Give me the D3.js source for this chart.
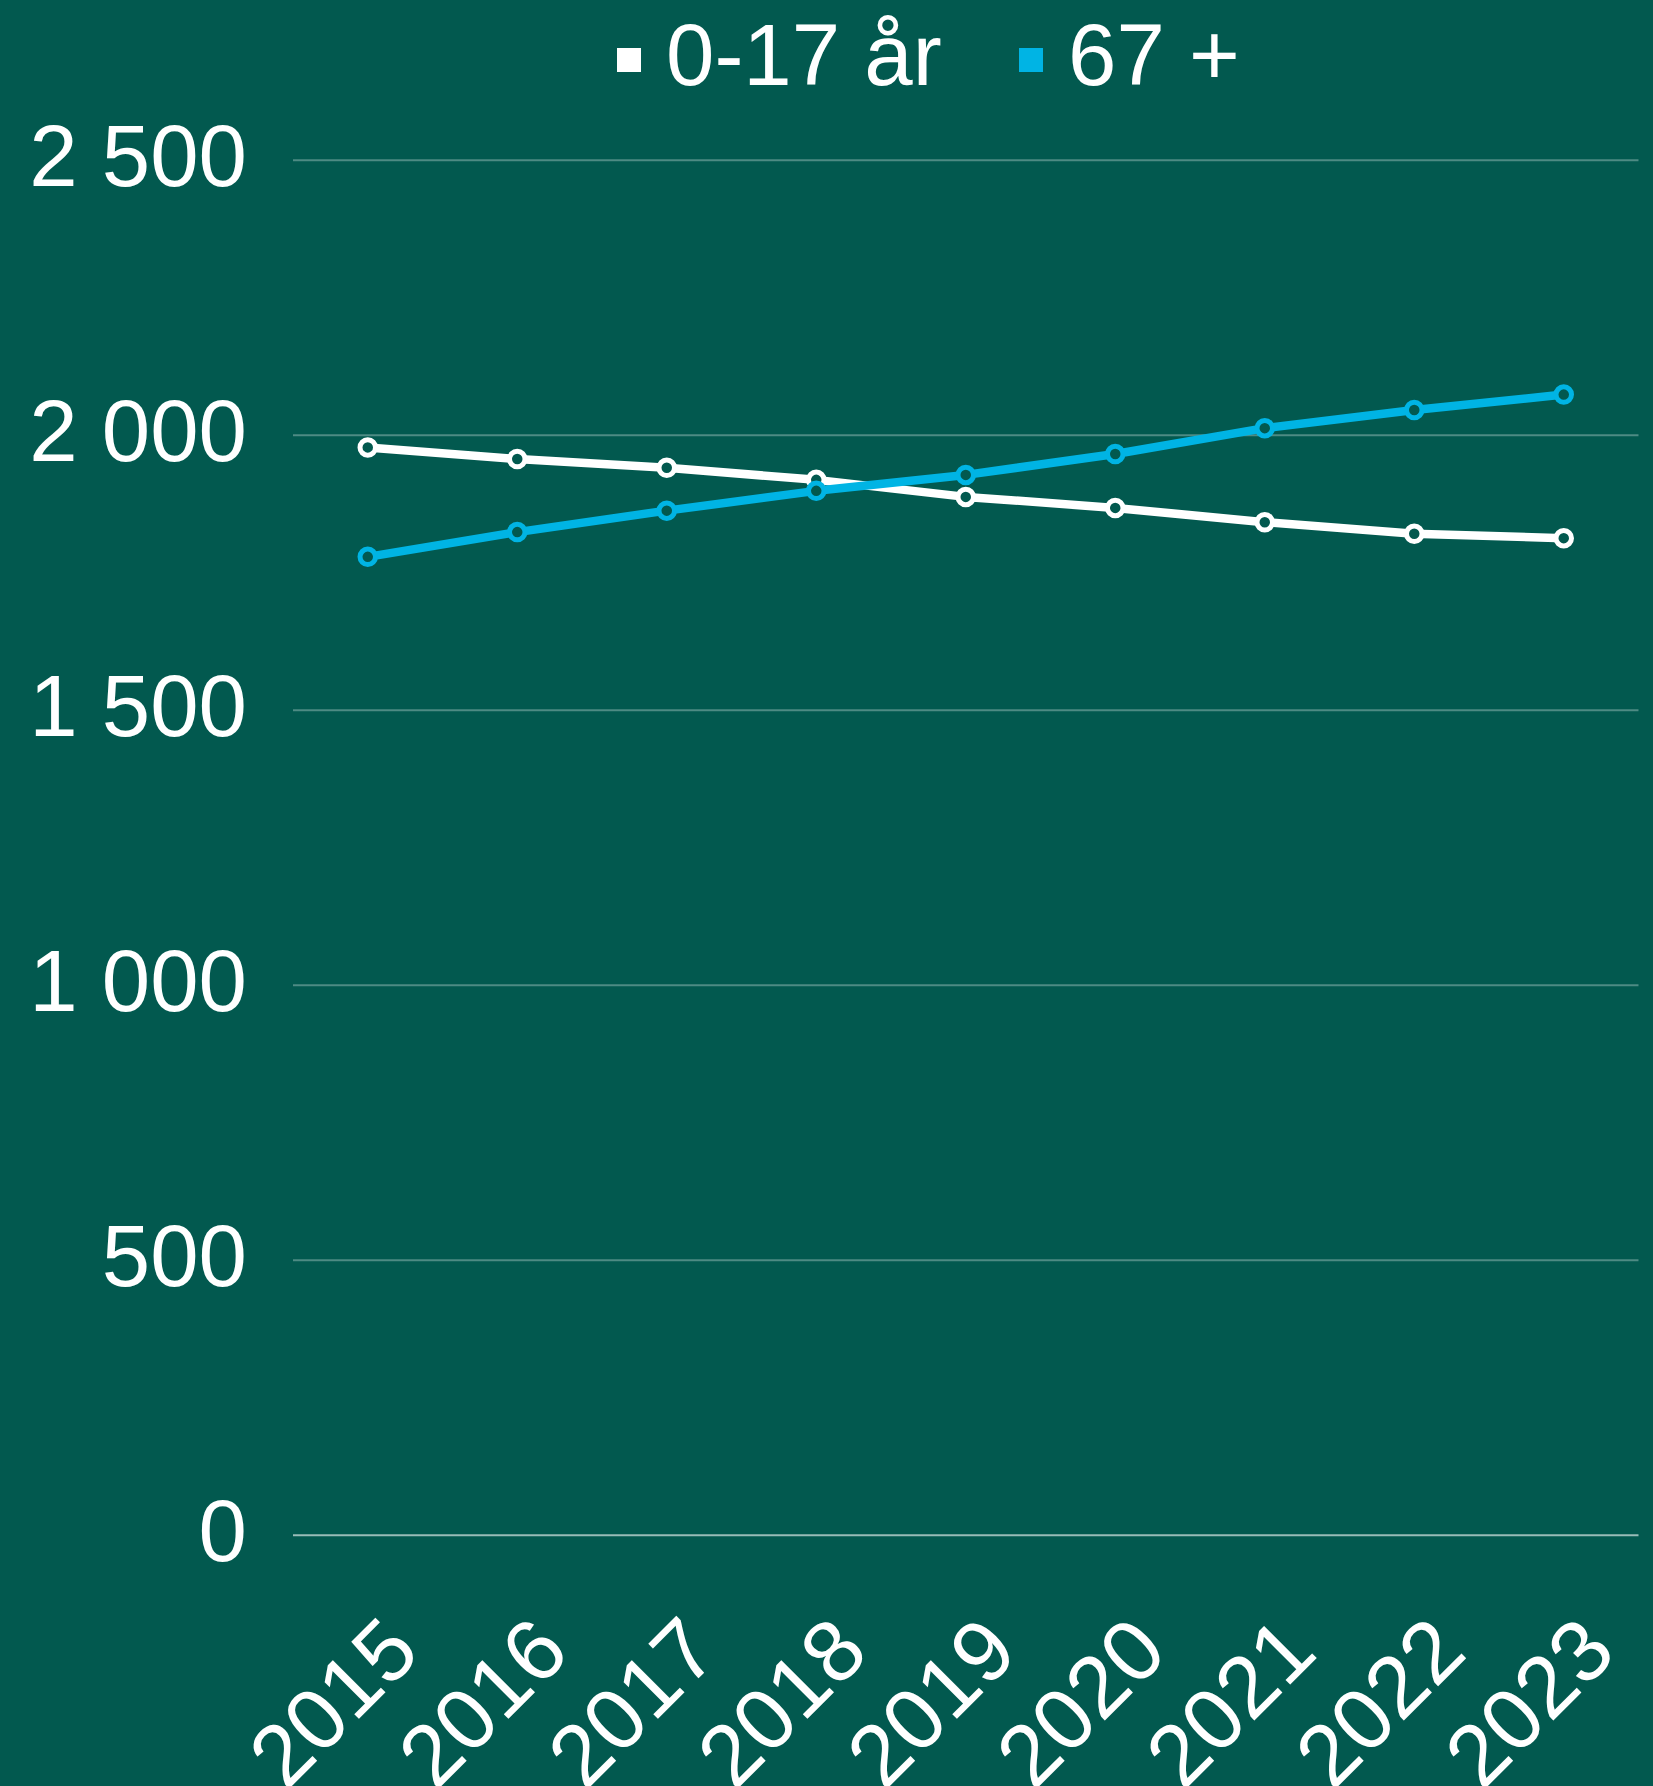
<!DOCTYPE html>
<html>
<head>
<meta charset="utf-8">
<script src="https://cdn.jsdelivr.net/npm/d3@7"></script>
<style>
  html, body { margin: 0; padding: 0; background: #02594F; }
  svg { display: block; }
  text { font-family: "Liberation Sans", Arial, sans-serif; fill: #ffffff; }
</style>
</head>
<body>
<svg id="chart" width="1653" height="1786"></svg>
<script>
const years = ["2015", "2016", "2017", "2018", "2019", "2020", "2021", "2022", "2023"];
const children = [1978, 1957, 1941, 1919, 1888, 1868, 1842, 1821, 1813];
const elderly = [1779, 1824, 1863, 1899, 1928, 1966, 2013, 2046, 2074];
const yTicks = [0, 500, 1000, 1500, 2000, 2500];
const seriesNames = ["0-17 år", "67 +"];
const seriesColors = ["#ffffff", "#00B4E4"];

(function () {
const W = 1653, H = 1786;
const bg = "#02594F";
const svg = d3.select("#chart");
svg.append("rect").attr("width", W).attr("height", H).attr("fill", bg);

const pLeft = 293, pRight = 1638.5, pTop = 160.3, pBottom = 1535.3;
const x = d3.scaleBand().domain(years).range([pLeft, pRight]).padding(0);
const y = d3.scaleLinear().domain([0, 2500]).range([pBottom, pTop]);
const fmt = d3.formatLocale({decimal: ",", thousands: " ", grouping: [3], currency: ["", ""]}).format(",");
const cx = d => x(d) + x.bandwidth() / 2;

// gridlines
svg.append("g").selectAll("line").data(yTicks).join("line")
  .attr("x1", pLeft).attr("x2", pRight)
  .attr("y1", d => y(d)).attr("y2", d => y(d))
  .attr("stroke", d => d === 0 ? "rgba(255,255,255,0.6)" : "rgba(255,255,255,0.3)")
  .attr("stroke-width", 2);

// y labels
svg.append("g").selectAll("text").data(yTicks).join("text")
  .attr("x", 247).attr("y", d => y(d) + 26)
  .attr("text-anchor", "end")
  .attr("font-size", 87)
  .text(d => fmt(d));

// x labels
svg.append("g").selectAll("text").data(years).join("text")
  .attr("text-anchor", "end")
  .attr("font-size", 87)
  .attr("transform", d => `translate(${cx(d) + 55},1655) rotate(-45)`)
  .text(d => d);

// lines
const series = [children, elderly];
const line = d3.line().x((d, i) => cx(years[i])).y(d => y(d));
series.forEach((vals, si) => {
  svg.append("path").datum(vals)
    .attr("d", line)
    .attr("fill", "none")
    .attr("stroke", seriesColors[si])
    .attr("stroke-width", 8.5)
    .attr("stroke-linejoin", "round");
  svg.append("g").selectAll("circle").data(vals).join("circle")
    .attr("cx", (d, i) => cx(years[i]))
    .attr("cy", d => y(d))
    .attr("r", 7.75)
    .attr("fill", bg)
    .attr("stroke", seriesColors[si])
    .attr("stroke-width", 5);
});

// legend
const legendX = [617, 1019];
const legend = svg.append("g");
seriesNames.forEach((name, i) => {
  legend.append("rect")
    .attr("x", legendX[i]).attr("y", 48)
    .attr("width", 24).attr("height", 24)
    .attr("fill", seriesColors[i]);
  legend.append("text")
    .attr("x", legendX[i] + 49).attr("y", 85)
    .attr("font-size", 87)
    .text(name);
});
})();
</script>
</body>
</html>
